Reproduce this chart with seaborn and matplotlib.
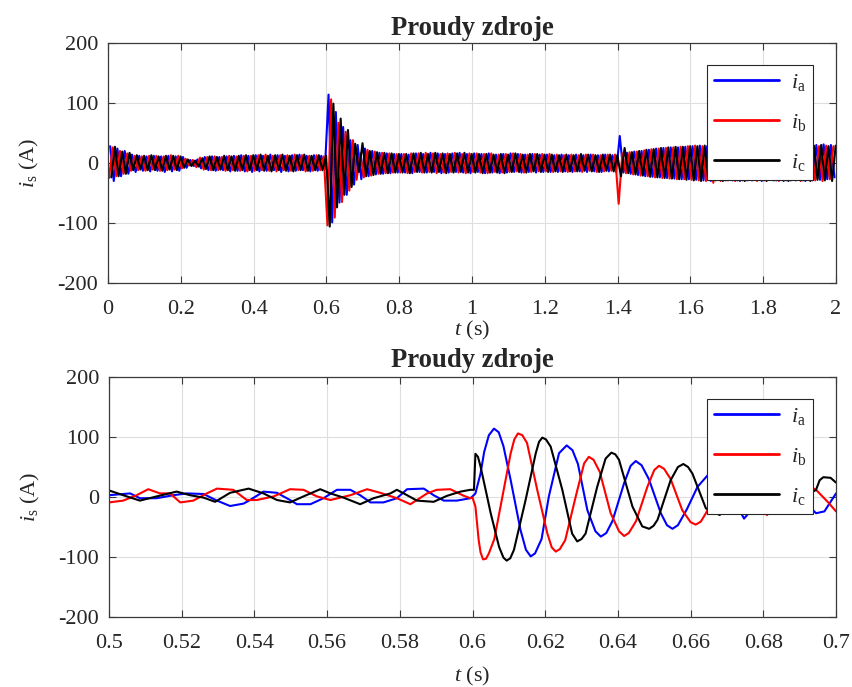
import numpy as np
import pandas as pd
import matplotlib
matplotlib.use("Agg")
import matplotlib.pyplot as plt
import seaborn as sns
from matplotlib.ticker import FuncFormatter

# ---------------------------------------------------------------------------
# Source currents, full record 0-2 s: successive half-cycle extremes (A)
# sampled every 10 ms (50 Hz), starting at the given instant for each phase.
# ---------------------------------------------------------------------------
HALF_PERIOD = 0.01
START_A, START_B, START_C = 0.0059, 0.0029, 0.0092

ext_a = [
    28, -30, 24, -22, 20, -18, 14, -15, 12, -13, 11, -14, 12, -13, 11, -15, 12, -14, 11, -13,
    10, -8, 5, -5, 6, -9, 10, -12, 11, -13, 10, -12, 11, -14, 12, -13, 13, -14, 12, -15,
    13, -14, 12, -13, 14, -12, 13, -15, 12, -14, 13, -13, 14, -12, 12, -14, 13, -13, 12, -10,
    114, -99, 85, -66, 60, -53, 38, -36, 30, -27, 24, -22, 20, -19, 17, -18, 16, -17, 15, -16,
    15, -16, 14, -17, 16, -15, 15, -16, 17, -15, 16, -17, 15, -16, 16, -15, 17, -16, 15, -17,
    16, -15, 15, -17, 16, -16, 14, -17, 15, -16, 16, -15, 15, -16, 14, -15, 15, -16, 14, -15,
    14, -15, 13, -15, 14, -14, 13, -15, 14, -14, 13, -15, 14, -14, 13, -15, 14, -14, 13, -15,
    45, -16, 17, -18, 19, -20, 20, -22, 22, -23, 24, -24, 25, -25, 26, -26, 26, -27, 27, -27,
    28, -28, 29, -29, 28, -30, 29, -28, 30, -29, 28, -29, 29, -30, 28, -29, 30, -28, 29, -30,
    29, -28, 30, -29, 28, -30, 29, -29, 30, -28, 29, -30, 28, -29, 30, -28, 31, -27, 30, -24,
]
ext_b = [
    -25, 26, -22, 20, -18, 16, -13, 12, -12, 11, -13, 12, -11, 12, -13, 11, -12, 13, -11, 12,
    -9, 7, -4, 5, -7, 9, -11, 10, -12, 11, -12, 10, -13, 12, -12, 11, -13, 12, -14, 12,
    -13, 13, -12, 14, -13, 12, -14, 13, -12, 13, -13, 14, -12, 13, -14, 12, -13, 13, -12, 11,
    -104, 106, -91, 67, -65, 52, -46, 38, -28, 16, -24, 22, -21, 19, -18, 17, -17, 16, -16, 15,
    -16, 15, -17, 16, -15, 16, -16, 17, -15, 16, -17, 15, -16, 16, -15, 17, -16, 15, -17, 16,
    -15, 16, -16, 15, -17, 16, -15, 14, -16, 15, -15, 16, -14, 15, -16, 14, -15, 15, -14, 15,
    -14, 15, -15, 14, -14, 13, -15, 14, -14, 13, -15, 14, -13, 14, -15, 13, -14, 14, -13, 14,
    -68, 16, -17, 18, -19, 19, -21, 21, -22, 23, -24, 24, -25, 25, -26, 26, -27, 27, -27, 28,
    -28, 29, -29, 28, -30, 29, -33, 28, -30, 29, -29, 28, -30, 29, -29, 30, -28, 29, -30, 28,
    -29, 30, -28, 29, -30, 28, -29, 30, -28, 29, -30, 29, -28, 30, -29, 28, -30, 29, -27, 28,
]
ext_c = [
    -24, 27, -22, 19, -18, 17, -12, 13, -11, 12, -12, 13, -12, 11, -13, 12, -11, 12, -12, 11,
    -8, 6, -5, 4, -6, 8, -10, 11, -12, 10, -11, 12, -12, 11, -13, 12, -12, 13, -12, 13,
    -12, 14, -13, 12, -14, 13, -12, 14, -13, 12, -14, 13, -12, 14, -13, 12, -12, 13, -12, 12,
    -106, 99, -74, 74, -53, 55, -40, 32, -15, 33, -22, 20, -20, 18, -18, 17, -17, 16, -16, 15,
    -16, 15, -17, 16, -15, 17, -16, 15, -16, 17, -15, 16, -17, 15, -16, 16, -15, 17, -16, 15,
    -16, 15, -17, 15, -16, 14, -16, 15, -17, 14, -15, 16, -15, 14, -16, 15, -14, 15, -15, 14,
    -15, 14, -14, 13, -15, 14, -14, 13, -14, 15, -13, 14, -14, 13, -15, 14, -13, 14, -14, 13,
    -22, 25, -17, 18, -19, 20, -21, 22, -23, 23, -24, 25, -25, 26, -26, 27, -27, 27, -28, 28,
    -29, 28, -30, 29, -28, 30, -29, 28, -30, 29, -28, 30, -29, 29, -30, 28, -29, 30, -28, 29,
    -30, 28, -29, 30, -28, 29, -30, 28, -29, 30, -29, 28, -30, 29, -28, 30, -29, 28, -30, 29,
]

# ---------------------------------------------------------------------------
# Detail around the switching event, 0.5-0.7 s
# ---------------------------------------------------------------------------
t_a_zoom = [
    0.5000, 0.5058, 0.5085, 0.5131, 0.5177, 0.5214, 0.5260, 0.5297, 0.5333, 0.5370,
    0.5388, 0.5425, 0.5462, 0.5498, 0.5517, 0.5554, 0.5590, 0.5627, 0.5664, 0.5691,
    0.5719, 0.5755, 0.5792, 0.5820, 0.5866, 0.5893, 0.5921, 0.5957, 0.5994,
    0.6000, 0.6008, 0.6022, 0.6032, 0.6045, 0.6059, 0.6072, 0.6085, 0.6105, 0.6132,
    0.6147, 0.6160, 0.6172, 0.6190, 0.6210, 0.6238, 0.6259, 0.6275, 0.6290, 0.6316,
    0.6338, 0.6353, 0.6368, 0.6385, 0.6417, 0.6435, 0.6449, 0.6465, 0.6485, 0.6518,
    0.6535, 0.6550, 0.6565, 0.6590, 0.6619, 0.6648, 0.6670, 0.6710, 0.6747, 0.6790,
    0.6847, 0.6900, 0.6945, 0.6968, 0.7000,
]
i_a_zoom = [
    3, 6, -2, -2, 3, 6, 5, -6, -15, -11,
    -5, 9, 7, -5, -12, -12, -2, 12, 12, 3,
    -9, -9, -2, 13, 14, 3, -6, -6, -2,
    1, 6, 39, 75, 103, 114, 108, 85, 28, -55,
    -88, -99, -94, -70, 1, 73, 86, 78, 55, -22,
    -57, -66, -60, -40, 23, 52, 60, 53, 30, -27,
    -47, -53, -47, -20, 17, 37, 40, 5, -36, -5,
    30, 0, -27, -24, 6,
]
t_b_zoom = [
    0.5000, 0.5039, 0.5076, 0.5108, 0.5140, 0.5168, 0.5196, 0.5232, 0.5269, 0.5297,
    0.5342, 0.5379, 0.5407, 0.5453, 0.5498, 0.5535, 0.5572, 0.5609, 0.5664, 0.5710,
    0.5746, 0.5792, 0.5829, 0.5847, 0.5875, 0.5902, 0.5939, 0.5976, 0.5994,
    0.6000, 0.6008, 0.6017, 0.6022, 0.6029, 0.6037, 0.6045, 0.6060, 0.6077, 0.6105,
    0.6115, 0.6125, 0.6137, 0.6150, 0.6178, 0.6206, 0.6218, 0.6229, 0.6240, 0.6255,
    0.6284, 0.6307, 0.6320, 0.6333, 0.6350, 0.6380, 0.6403, 0.6417, 0.6430, 0.6450,
    0.6481, 0.6500, 0.6513, 0.6527, 0.6545, 0.6577, 0.6600, 0.6614, 0.6628, 0.6642,
    0.6671, 0.6713, 0.6760, 0.6810, 0.6860, 0.6905, 0.6945, 0.6977, 0.7000,
]
i_b_zoom = [
    -9, -6, 3, 13, 6, 6, -9, -6, 6, 14,
    12, -5, -5, 1, 13, 12, 1, -5, 3, 13,
    7, -2, -12, -5, 6, 12, 13, 2, -2,
    -1, -16, -72, -92, -104, -103, -94, -70, -16, 73,
    96, 106, 103, 90, 12, -61, -84, -91, -87, -72,
    1, 56, 67, 62, 42, -27, -57, -65, -60, -40,
    17, 45, 52, 47, 30, -22, -42, -46, -41, -27,
    5, 38, 5, -30, 0, 25, 12, -8, -24,
]
t_c_zoom = [
    0.5000, 0.5039, 0.5085, 0.5131, 0.5186, 0.5223, 0.5260, 0.5292, 0.5333, 0.5384,
    0.5425, 0.5462, 0.5498, 0.5535, 0.5581, 0.5609, 0.5645, 0.5691, 0.5728, 0.5774,
    0.5792, 0.5820, 0.5847, 0.5893, 0.5930, 0.5967, 0.5994,
    0.6000, 0.6004, 0.6008, 0.6015, 0.6022, 0.6035, 0.6050, 0.6073, 0.6085, 0.6094,
    0.6104, 0.6114, 0.6146, 0.6174, 0.6183, 0.6192, 0.6202, 0.6215, 0.6247, 0.6274,
    0.6288, 0.6300, 0.6311, 0.6343, 0.6366, 0.6382, 0.6393, 0.6403, 0.6440, 0.6467,
    0.6486, 0.6498, 0.6509, 0.6545, 0.6565, 0.6580, 0.6593, 0.6605, 0.6642, 0.6680,
    0.6730, 0.6780, 0.6840, 0.6900, 0.6945, 0.6955, 0.6965, 0.6985, 0.7000,
]
i_c_zoom = [
    11, 3, -6, 1, 9, 3, -1, -8, 7, 14,
    6, -5, -9, 1, 13, 6, -1, -12, -2, 6,
    12, 3, -6, -8, 2, 9, 12,
    12, 12, 72, 67, 51, 15, -27, -83, -101, -106,
    -102, -88, -5, 73, 92, 99, 96, 84, 12, -61,
    -74, -70, -61, 17, 64, 74, 71, 62, -16, -49,
    -53, -48, -38, 28, 50, 55, 50, 39, -19, -30,
    0, 28, 5, -5, 12, 28, 33, 32, 24,
]

PHASES = ["a", "b", "c"]
COLORS = {"a": "#0000ff", "b": "#ff0000", "c": "#000000"}
LABELS = {p: r"$i_{\mathrm{%s}}$" % p for p in PHASES}
TITLE = "Proudy zdroje"

# ---------------------------------------------------------------------------
# Build long-form tables
# ---------------------------------------------------------------------------
full_frames = []
for p, start, ext in zip(PHASES, (START_A, START_B, START_C), (ext_a, ext_b, ext_c)):
    t = start + HALF_PERIOD * np.arange(len(ext))
    full_frames.append(pd.DataFrame({"t": t, "i": ext, "phase": p}))
full = pd.concat(full_frames, ignore_index=True)

zoom = pd.concat(
    [
        pd.DataFrame({"t": t_a_zoom, "i": i_a_zoom, "phase": "a"}),
        pd.DataFrame({"t": t_b_zoom, "i": i_b_zoom, "phase": "b"}),
        pd.DataFrame({"t": t_c_zoom, "i": i_c_zoom, "phase": "c"}),
    ],
    ignore_index=True,
)

# ---------------------------------------------------------------------------
# Styling
# ---------------------------------------------------------------------------
sns.set_style("ticks")
plt.rcParams["font.family"] = ["Liberation Serif", "DejaVu Serif"]
plt.rcParams.update({
    "mathtext.fontset": "custom",
    "mathtext.rm": "Liberation Serif",
    "mathtext.it": "Liberation Serif:italic",
    "mathtext.bf": "Liberation Serif:bold",
    "axes.unicode_minus": False,
    "font.size": 16,
})

AX_COLOR = "#3a3a3a"
TEXT_COLOR = "#262626"
GRID_COLOR = "#dedede"

fig = plt.figure(figsize=(8.53, 6.87), dpi=100)
ax_top = fig.add_axes([0.1266, 0.5881, 0.8535, 0.3493])
ax_bot = fig.add_axes([0.1278, 0.1019, 0.8523, 0.3493])


def draw(ax, data, lw):
    for p in PHASES:
        sub = data[data["phase"] == p]
        sns.lineplot(data=sub, x="t", y="i", ax=ax, color=COLORS[p], lw=lw,
                     label=LABELS[p], sort=False, estimator=None)


def style(ax, xlim, xticks, title_pad, xlabel_pad):
    ax.set_xlim(*xlim)
    ax.set_ylim(-200, 200)
    ax.set_xticks(xticks)
    ax.set_yticks([-200, -100, 0, 100, 200])
    ax.xaxis.set_major_formatter(FuncFormatter(lambda v, _: "%g" % round(v, 4)))
    ax.yaxis.set_major_formatter(FuncFormatter(lambda v, _: "%g" % v))
    ax.grid(True, color=GRID_COLOR, lw=0.8)
    ax.set_axisbelow(True)
    for s in ax.spines.values():
        s.set_visible(True)
        s.set_color(AX_COLOR)
        s.set_linewidth(0.9)
    ax.tick_params(direction="in", length=5, width=0.8, color=AX_COLOR,
                   labelcolor=TEXT_COLOR, labelsize=16, top=True, right=True)
    ax.tick_params(axis="x", pad=12)
    ax.tick_params(axis="y", pad=7)
    ax.set_xlabel(r"$t$ (s)", fontsize=16, color=TEXT_COLOR, labelpad=xlabel_pad)
    ax.set_ylabel(r"$i_{\mathrm{s}}$ (A)", fontsize=16, color=TEXT_COLOR, labelpad=12)
    ax.set_title(TITLE, fontsize=19.2, fontweight="bold", pad=title_pad)
    leg = ax.legend(loc="upper right", bbox_to_anchor=(0.969, 0.908),
                    borderaxespad=0, fontsize=16, handlelength=2.9,
                    handletextpad=0.55, labelspacing=0.85, borderpad=0.32,
                    fancybox=False, framealpha=1.0)
    leg.get_frame().set_edgecolor(TEXT_COLOR)
    leg.get_frame().set_linewidth(0.8)
    for line in leg.get_lines():
        line.set_linewidth(2.0)


draw(ax_top, full, 1.5)
style(ax_top, (0, 2), np.round(np.arange(0, 2.01, 0.2), 1), 6, 0)

draw(ax_bot, zoom, 1.5)
style(ax_bot, (0.5, 0.7), np.round(np.arange(0.5, 0.701, 0.02), 2), 7, 9)

fig.savefig("out.png", dpi=100)
